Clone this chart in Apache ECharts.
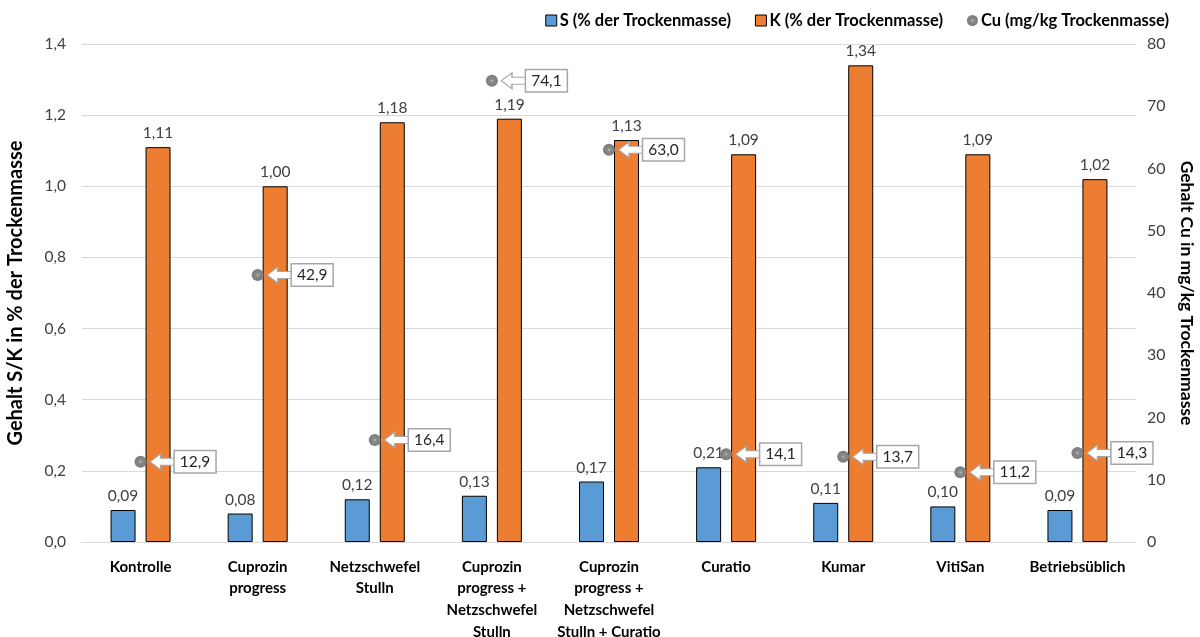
<!DOCTYPE html>
<html>
<head>
<meta charset="utf-8">
<script src="https://cdn.jsdelivr.net/npm/echarts@6/dist/echarts.min.js"></script>
<style>
  html, body { margin: 0; padding: 0; background: #fff; }
  #chart { width: 1200px; height: 637px; }
</style>
</head>
<body>
<div id="chart"></div>
<script>
// Treatments (x-axis categories)
const categories = [
  'Kontrolle',
  'Cuprozin\nprogress',
  'Netzschwefel\nStulln',
  'Cuprozin\nprogress +\nNetzschwefel\nStulln',
  'Cuprozin\nprogress +\nNetzschwefel\nStulln + Curatio',
  'Curatio',
  'Kumar',
  'VitiSan',
  'Betriebsüblich'
];
// Sulfur, % of dry matter
const sulfur = [0.09, 0.08, 0.12, 0.13, 0.17, 0.21, 0.11, 0.10, 0.09];
// Potassium, % of dry matter
const potassium = [1.11, 1.00, 1.18, 1.19, 1.13, 1.09, 1.34, 1.09, 1.02];
// Copper, mg/kg dry matter
const copper = [12.9, 42.9, 16.4, 74.1, 63.0, 14.1, 13.7, 11.2, 14.3];

const FONT = 'Lato, "Open Sans", sans-serif';
const comma = (v, d) => v.toFixed(d).replace('.', ',');

const chart = echarts.init(document.getElementById('chart'), null, { renderer: 'canvas' });

// left-pointing block arrow used for the copper callouts
const arrowPath = 'path://M0,8 L11,0 L11,4.5 L26,4.5 L26,11.5 L11,11.5 L11,16 Z';

chart.setOption({
  backgroundColor: '#fff',
  textStyle: { fontFamily: FONT },
  animation: false,
  legend: {
    data: [
      { name: 'S (% der Trockenmasse)', icon: 'rect', itemStyle: { borderColor: '#000', borderWidth: 1 } },
      { name: 'K (% der Trockenmasse)', icon: 'rect', itemStyle: { borderColor: '#000', borderWidth: 1 } },
      { name: 'Cu (mg/kg Trockenmasse)', icon: 'circle' }
    ],
    right: 26,
    top: 7,
    itemWidth: 11,
    itemHeight: 11,
    itemGap: 24,
    textStyle: { fontFamily: FONT, fontSize: 16.5, fontWeight: 'bold', color: '#000', padding: [0, 0, 0, -2] }
  },
  grid: { left: 82, right: 64, top: 44, bottom: 95, containLabel: false, outerBoundsMode: 'none' },
  xAxis: {
    type: 'category',
    data: categories,
    axisTick: { show: false },
    axisLine: { show: true, lineStyle: { color: '#d9d9d9', width: 1 } },
    axisLabel: {
      interval: 0,
      margin: 14,
      fontFamily: FONT,
      fontSize: 15,
      fontWeight: 'bold',
      color: '#000',
      lineHeight: 21.7
    }
  },
  yAxis: [
    {
      type: 'value',
      min: 0,
      max: 1.4,
      interval: 0.2,
      name: 'Gehalt S/K in % der Trockenmasse',
      nameLocation: 'middle',
      nameGap: 56,
      nameTextStyle: { fontFamily: FONT, fontSize: 20, fontWeight: 'bold', color: '#000' },
      axisLine: { show: false },
      axisTick: { show: false },
      axisLabel: {
        margin: 16,
        fontFamily: FONT,
        fontSize: 15.5,
        color: '#404040',
        formatter: v => comma(v, 1)
      },
      splitLine: { lineStyle: { color: '#d9d9d9', width: 1 } }
    },
    {
      type: 'value',
      min: 0,
      max: 80,
      interval: 10,
      name: 'Gehalt Cu in mg/kg Trockenmasse',
      nameLocation: 'middle',
      nameRotate: -90,
      nameGap: 42,
      nameTextStyle: { fontFamily: FONT, fontSize: 17.5, fontWeight: 'bold', color: '#000' },
      axisLine: { show: false },
      axisTick: { show: false },
      axisLabel: {
        margin: 11,
        fontFamily: FONT,
        fontSize: 16,
        color: '#404040'
      },
      splitLine: { show: false }
    }
  ],
  series: [
    {
      name: 'S (% der Trockenmasse)',
      type: 'bar',
      yAxisIndex: 0,
      data: sulfur,
      barWidth: 25,
      barGap: '40%',
      itemStyle: { color: '#5B9BD5', borderColor: '#000', borderWidth: 1 },
      label: {
        show: true,
        position: 'top',
        distance: 6,
        fontFamily: FONT,
        fontSize: 15.5,
        color: '#404040',
        formatter: p => comma(p.value, 2)
      },
      z: 2
    },
    {
      name: 'K (% der Trockenmasse)',
      type: 'bar',
      yAxisIndex: 0,
      data: potassium,
      barWidth: 25,
      itemStyle: { color: '#ED7D31', borderColor: '#000', borderWidth: 1 },
      label: {
        show: true,
        position: 'top',
        distance: 6,
        fontFamily: FONT,
        fontSize: 15.5,
        color: '#404040',
        formatter: p => comma(p.value, 2)
      },
      z: 2
    },
    {
      // callout arrows with value boxes pointing at the copper markers
      name: 'Cu-Beschriftung',
      type: 'scatter',
      yAxisIndex: 1,
      data: copper,
      symbol: arrowPath,
      symbolSize: [25, 16],
      symbolOffset: [22, 0],
      itemStyle: { color: '#fff', borderColor: '#a6a6a6', borderWidth: 1.2, opacity: 1 },
      label: {
        show: true,
        position: 'right',
        distance: -1,
        fontFamily: FONT,
        fontSize: 15.5,
        color: '#262626',
        backgroundColor: '#fff',
        borderColor: '#a6a6a6',
        borderWidth: 1.5,
        padding: [3, 5, 2, 5],
        formatter: p => comma(p.value, 1)
      },
      emphasis: { disabled: true },
      silent: true,
      z: 4
    },
    {
      name: 'Cu (mg/kg Trockenmasse)',
      type: 'scatter',
      yAxisIndex: 1,
      data: copper,
      symbol: 'circle',
      symbolSize: 12,
      itemStyle: {
        opacity: 1,
        color: {
          type: 'radial', x: 0.5, y: 0.5, r: 0.5,
          colorStops: [
            { offset: 0, color: '#c8c8c8' },
            { offset: 0.25, color: '#8c8c8c' },
            { offset: 1, color: '#7a7a7a' }
          ]
        }
      },
      z: 5
    }
  ]
});
</script>
</body>
</html>
